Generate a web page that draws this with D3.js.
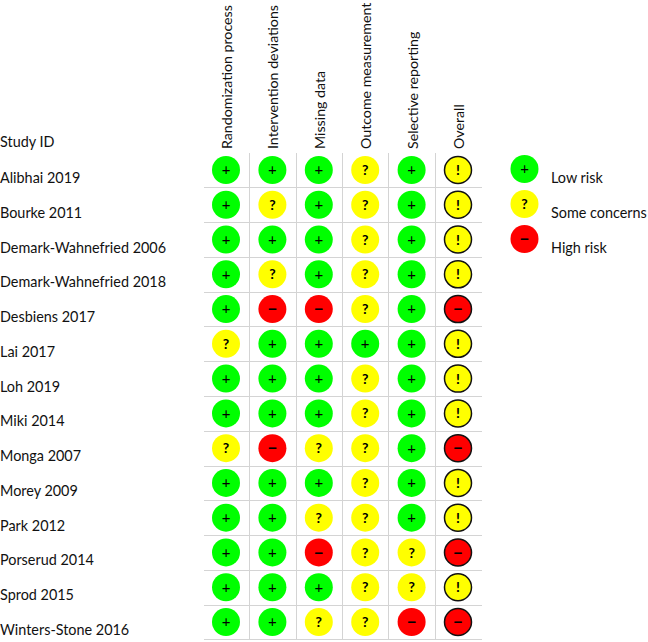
<!DOCTYPE html>
<html>
<head>
<meta charset="utf-8">
<script src="https://cdn.jsdelivr.net/npm/d3@7"></script>
<style>
  html, body { margin: 0; padding: 0; background: #fff; }
  text { font-family: Lato, "Open Sans", sans-serif; fill: #111; }
</style>
</head>
<body>
<div id="chart"></div>
<script>
var studies = ['Alibhai 2019', 'Bourke 2011', 'Demark-Wahnefried 2006', 'Demark-Wahnefried 2018',
  'Desbiens 2017', 'Lai 2017', 'Loh 2019', 'Miki 2014', 'Monga 2007', 'Morey 2009', 'Park 2012',
  'Porserud 2014', 'Sprod 2015', 'Winters-Stone 2016'];
var domains = ['Randomization process', 'Intervention deviations', 'Missing data',
  'Outcome measurement', 'Selective reporting', 'Overall'];

/* One string per study, one letter per domain: L low, S some concerns, H high */
var judgements = ['LLLSLS', 'LSLSLS', 'LLLSLS', 'LSLSLS', 'LHHSLH', 'SLLLLS', 'LLLSLS',
  'LLLSLS', 'SHSSLH', 'LLLSLS', 'LLSSLS', 'LLHSSH', 'LLLSSS', 'LLSSHH'];
var legendKeys = ['L', 'S', 'H'];
var legendLabels = ['Low risk', 'Some concerns', 'High risk'];

var colors = { L: '#00ff00', S: '#ffff00', H: '#ff0000' };
var glyphs = { L: '+', S: '?', H: '\u2212' };

var width = 648, height = 642;

var svg = d3.select('#chart').append('svg')
  .attr('width', width)
  .attr('height', height)
  .style('display', 'block');

var x = d3.scalePoint().domain(domains).range([226, 458]);
var y = d3.scalePoint().domain(studies).range([170, 622]);
var stepX = x.step(), stepY = y.step();

/* Grid */
var grid = svg.append('g').attr('stroke', '#d4d4d4').attr('stroke-width', 1);

grid.selectAll('line.h')
  .data(studies)
  .enter().append('line')
  .attr('class', 'h')
  .attr('x1', 204)
  .attr('x2', 482)
  .attr('y1', function (d) { return Math.round(y(d) + stepY / 2) + 0.5; })
  .attr('y2', function (d) { return Math.round(y(d) + stepY / 2) + 0.5; });

grid.selectAll('line.v')
  .data(domains.slice(0, -1))
  .enter().append('line')
  .attr('class', 'v')
  .attr('x1', function (d) { return Math.round(x(d) + stepX / 2) + 0.5; })
  .attr('x2', function (d) { return Math.round(x(d) + stepX / 2) + 0.5; })
  .attr('y1', 153)
  .attr('y2', 640);

/* Headers */
svg.selectAll('text.domain')
  .data(domains)
  .enter().append('text')
  .attr('class', 'domain')
  .attr('transform', function (d) { return 'translate(' + (x(d) + 1) + ',149) rotate(-90)'; })
  .attr('dy', '0.35em')
  .style('font-size', '14.2px')
  .text(function (d) { return d; });

svg.append('text')
  .attr('x', 0)
  .attr('y', 147)
  .style('font-size', '14.4px')
  .text('Study ID');

svg.selectAll('text.study')
  .data(studies)
  .enter().append('text')
  .attr('class', 'study')
  .attr('x', 0)
  .attr('y', function (d) { return y(d) + 13; })
  .style('font-size', '14.4px')
  .text(function (d) { return d; });

/* Draws one judgement circle with its glyph */
function mark(sel, key, overall) {
  sel.append('circle')
    .attr('r', overall ? 13.5 : 14)
    .attr('fill', colors[key])
    .attr('stroke', overall ? '#111' : 'none')
    .attr('stroke-width', overall ? 1.5 : 0);
  sel.append('text')
    .attr('text-anchor', 'middle')
    .attr('dy', '0.36em')
    .style('font-size', key === 'L' ? '15px' : key === 'S' ? '14px' : '17px')
    .style('font-weight', key === 'L' ? 400 : 700)
    .style('fill', '#000')
    .text(overall && key === 'S' ? '!' : glyphs[key]);
}

studies.forEach(function (study, i) {
  domains.forEach(function (domain, j) {
    var key = judgements[i].charAt(j);
    var g = svg.append('g')
      .attr('transform', 'translate(' + x(domain) + ',' + y(study) + ')');
    mark(g, key, domain === 'Overall');
  });
});

/* Legend */
var legendY = d3.scalePoint().domain(legendKeys).range([169, 239]);

legendKeys.forEach(function (key, i) {
  var g = svg.append('g')
    .attr('transform', 'translate(524.5,' + legendY(key) + ')');
  mark(g, key, false);
  svg.append('text')
    .attr('x', 551)
    .attr('y', legendY(key) + 14)
    .style('font-size', '14.4px')
    .text(legendLabels[i]);
});
</script>
</body>
</html>
